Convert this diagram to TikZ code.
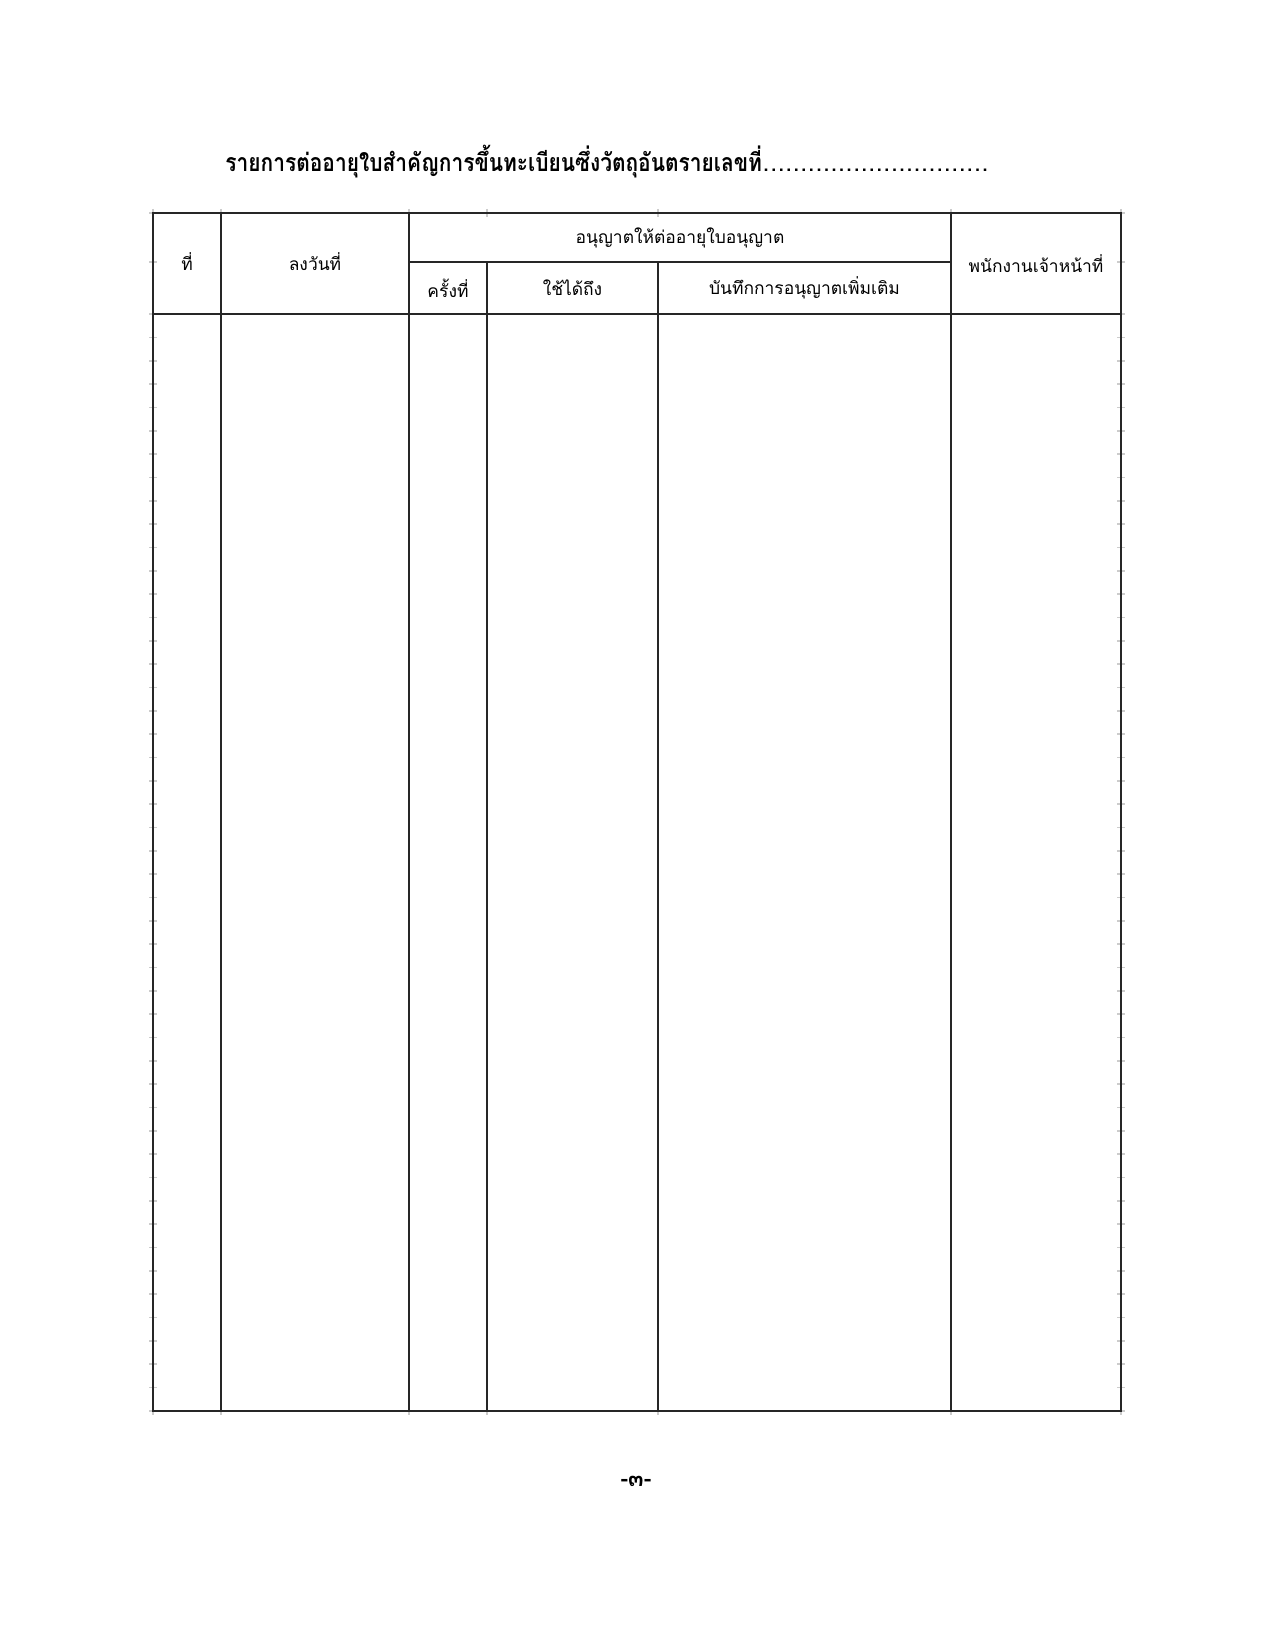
\documentclass[tikz,border=0pt]{standalone}
\usepackage{fontspec}
\newfontfamily\thaifont[Script=Thai]{Loma}
\newfontfamily\thaititle[Script=Thai,FakeStretch=0.84]{Loma}
\newfontfamily\thaidots[Script=Thai,LetterSpace=2.5]{Loma}

\begin{document}
\begin{tikzpicture}
        [x=0.4818pt,y=-0.4818pt,every node/.style={font=\thaifont\fontsize{8.4}{10}\selectfont,inner sep=0pt},
         gridline/.style={line width=1pt,black!85},
         gridtick/.style={line width=0.8pt,black!20}]
        \useasboundingbox[fill=white] (0,0) rectangle (1275,1650);

        \node[anchor=base west,font=\thaititle\bfseries\fontsize{12}{15}\selectfont] (title) at (225,172)
          {รายการต่ออายุใบสำคัญการขึ้นทะเบียนซึ่งวัตถุอันตรายเลขที่};
        \node[anchor=base west,font=\thaidots\fontsize{12}{15}\selectfont] (dots) at (title.base east)
          {..............................};

        % grey ticks of the sheet
        \foreach \i in {0,...,47} {
          \draw[gridtick] (149,314+23.34*\i) -- (157,314+23.34*\i);
          \draw[gridtick] (1117,314+23.34*\i) -- (1125,314+23.34*\i);
        }
        \foreach \y in {213,262} {
          \draw[gridtick] (149,\y) -- (157,\y);
          \draw[gridtick] (1117,\y) -- (1125,\y);
        }
        \foreach \x in {153,221,409,487,658,951,1121} {
          \draw[gridtick] (\x,209) -- (\x,217);
          \draw[gridtick] (\x,1407) -- (\x,1415);
        }

        % table
        \draw[gridline] (153,213) rectangle (1121,1411);
        \draw[gridline] (153,314) -- (1121,314);
        \draw[gridline] (409,262) -- (951,262);
        \foreach \x in {221,409,951} {
          \draw[gridline] (\x,213) -- (\x,1411);
        }
        \foreach \x in {487,658} {
          \draw[gridline] (\x,262) -- (\x,1411);
        }

        \node (no) at (187,262) {ที่};
        \node (date) at (315,262) {ลงวันที่};
        \node (permit) at (680,238) {อนุญาตให้ต่ออายุใบอนุญาต};
        \node (round) at (448,288) {ครั้งที่};
        \node (until) at (572.5,288) {ใช้ได้ถึง};
        \node (note) at (804.5,288) {บันทึกการอนุญาตเพิ่มเติม};
        \node (officer) at (1036,264) {พนักงานเจ้าหน้าที่};

        \node[font=\thaifont\bfseries\fontsize{11}{13}\selectfont] (page) at (636,1481) {-๓-};
\end{tikzpicture}
\end{document}
